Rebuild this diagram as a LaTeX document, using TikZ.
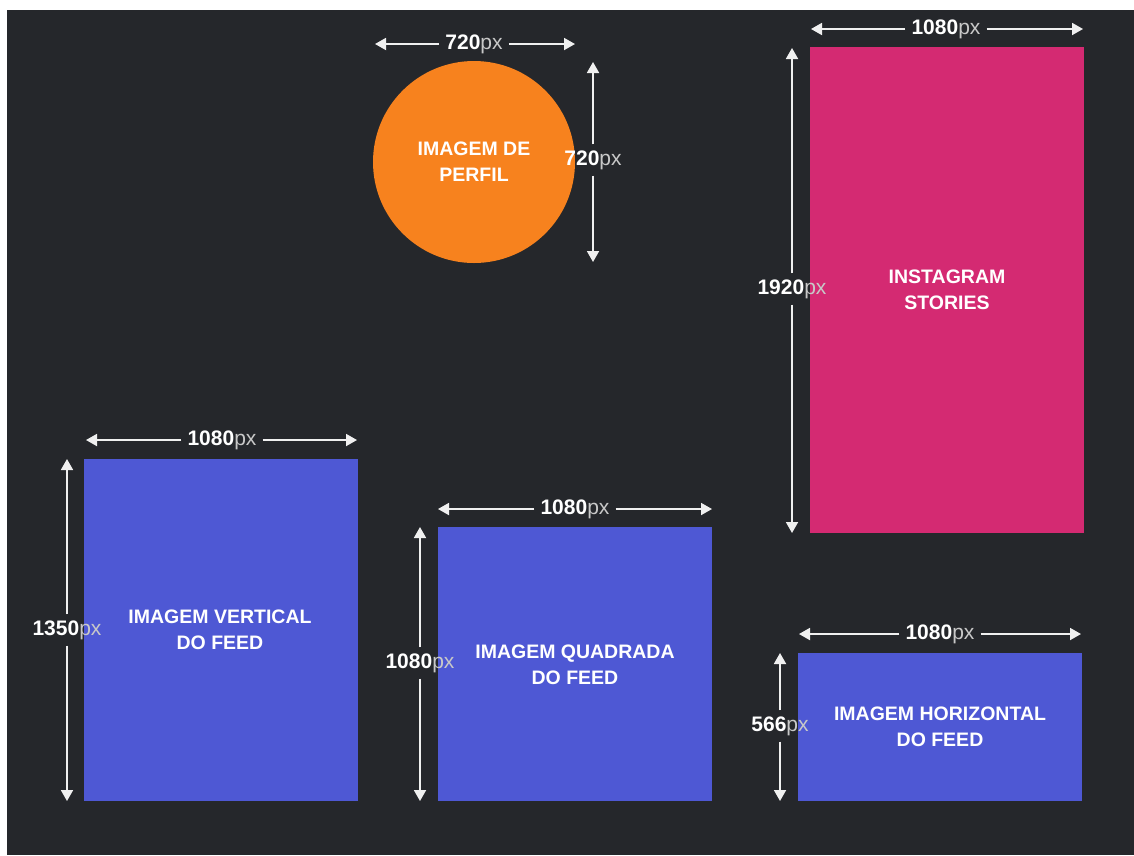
\documentclass[tikz,border=0pt]{standalone}
\usepackage{fontspec}
\setmainfont{Liberation Sans}
\usetikzlibrary{arrows.meta}

\definecolor{fundo}{RGB}{37,39,43}
\definecolor{laranja}{RGB}{247,130,30}
\definecolor{rosa}{RGB}{212,42,114}
\definecolor{azul}{RGB}{78,88,212}
\definecolor{linha}{RGB}{240,240,240}
\definecolor{pxcinza}{RGB}{200,200,200}

\newcommand{\medida}[1]{{\bfseries #1}{\color{pxcinza}px}}

\begin{document}
\begin{tikzpicture}[x=1pt,y=-1pt]
   \tikzstyle{formato}=[inner sep=0pt, outer sep=0pt, text=white, align=center, font=\bfseries\fontsize{19.5}{26}\selectfont]
   \tikzstyle{caixa}=[formato, anchor=north west]
   \tikzstyle{rotulo}=[inner sep=6pt, text=white, font=\fontsize{21}{24}\selectfont]
   \tikzstyle{cota}=[draw=linha, line width=1.8pt, -{Triangle[length=11pt,width=12pt]}]

\fill[white] (0,0) rectangle (1134,855);
\fill[fundo] (7,10) rectangle (1134,855);

% imagem de perfil
\node[formato, circle, fill=laranja, minimum size=202pt] (perfil) at (474,162) {IMAGEM DE\\PERFIL};
\node[rotulo] (perfil-l) at (474,44) {\medida{720}};
\coordinate (perfil-l1) at (375,44);
\coordinate (perfil-l2) at (575,44);
\draw[cota] (perfil-l) -- (perfil-l1);
\draw[cota] (perfil-l) -- (perfil-l2);
\node[rotulo] (perfil-a) at (593,160) {\medida{720}};
\coordinate (perfil-a1) at (593,62);
\coordinate (perfil-a2) at (593,262);
\draw[cota] (perfil-a) -- (perfil-a1);
\draw[cota] (perfil-a) -- (perfil-a2);

% stories
\node[caixa, fill=rosa, minimum width=274pt, minimum height=486pt] (stories) at (810,47) {};
\node[formato] at (stories.center) {INSTAGRAM\\STORIES};
\node[rotulo] (stories-l) at (946,29) {\medida{1080}};
\coordinate (stories-l1) at (811,29);
\coordinate (stories-l2) at (1083,29);
\draw[cota] (stories-l) -- (stories-l1);
\draw[cota] (stories-l) -- (stories-l2);
\node[rotulo] (stories-a) at (792,289) {\medida{1920}};
\coordinate (stories-a1) at (792,48);
\coordinate (stories-a2) at (792,533);
\draw[cota] (stories-a) -- (stories-a1);
\draw[cota] (stories-a) -- (stories-a2);

% imagem vertical
\node[caixa, fill=azul, minimum width=274pt, minimum height=342pt] (vertical) at (84,459) {};
\node[formato] at (220,630) {IMAGEM VERTICAL\\DO FEED};
\node[rotulo] (vertical-l) at (222,440) {\medida{1080}};
\coordinate (vertical-l1) at (86,440);
\coordinate (vertical-l2) at (357,440);
\draw[cota] (vertical-l) -- (vertical-l1);
\draw[cota] (vertical-l) -- (vertical-l2);
\node[rotulo] (vertical-a) at (67,630) {\medida{1350}};
\coordinate (vertical-a1) at (67,459);
\coordinate (vertical-a2) at (67,801);
\draw[cota] (vertical-a) -- (vertical-a1);
\draw[cota] (vertical-a) -- (vertical-a2);

% imagem quadrada
\node[caixa, fill=azul, minimum width=274pt, minimum height=274pt] (quadrada) at (438,527) {};
\node[formato] at (575,665) {IMAGEM QUADRADA\\DO FEED};
\node[rotulo] (quadrada-l) at (575,509) {\medida{1080}};
\coordinate (quadrada-l1) at (438,509);
\coordinate (quadrada-l2) at (712,509);
\draw[cota] (quadrada-l) -- (quadrada-l1);
\draw[cota] (quadrada-l) -- (quadrada-l2);
\node[rotulo] (quadrada-a) at (420,663) {\medida{1080}};
\coordinate (quadrada-a1) at (420,527);
\coordinate (quadrada-a2) at (420,801);
\draw[cota] (quadrada-a) -- (quadrada-a1);
\draw[cota] (quadrada-a) -- (quadrada-a2);

% imagem horizontal
\node[caixa, fill=azul, minimum width=284pt, minimum height=148pt] (horizontal) at (798,653) {};
\node[formato] at (940,727) {IMAGEM HORIZONTAL\\DO FEED};
\node[rotulo] (horizontal-l) at (940,634) {\medida{1080}};
\coordinate (horizontal-l1) at (799,634);
\coordinate (horizontal-l2) at (1081,634);
\draw[cota] (horizontal-l) -- (horizontal-l1);
\draw[cota] (horizontal-l) -- (horizontal-l2);
\node[rotulo] (horizontal-a) at (780,726) {\medida{566}};
\coordinate (horizontal-a1) at (780,653);
\coordinate (horizontal-a2) at (780,801);
\draw[cota] (horizontal-a) -- (horizontal-a1);
\draw[cota] (horizontal-a) -- (horizontal-a2);

\end{tikzpicture}
\end{document}
